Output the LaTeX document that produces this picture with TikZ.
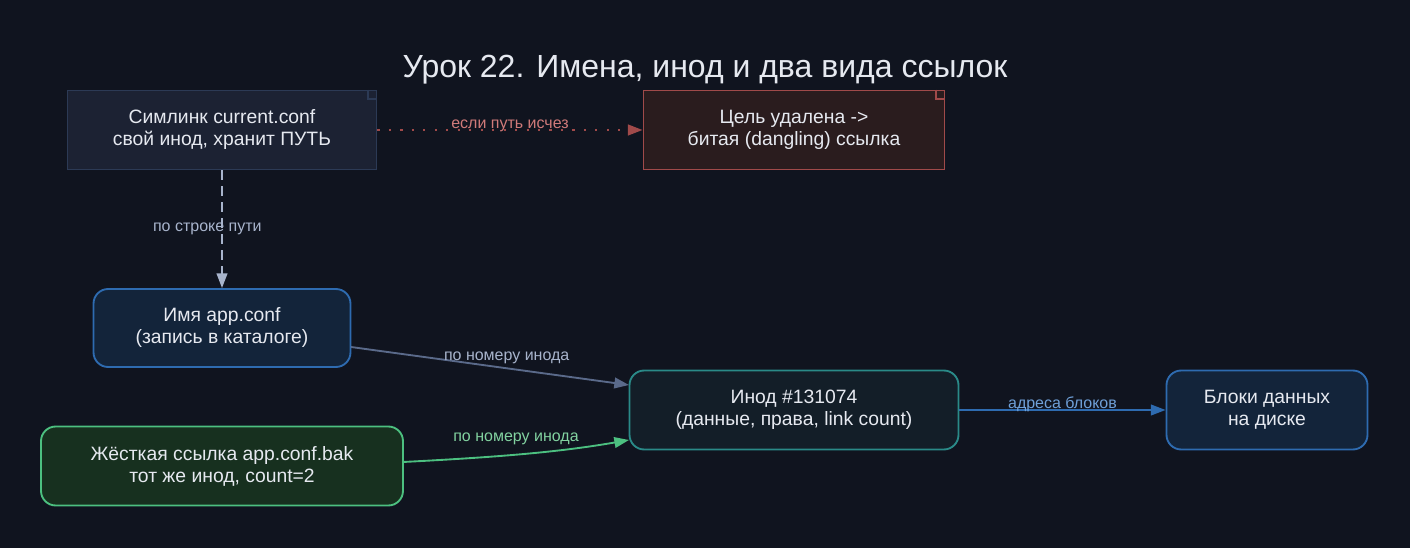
\documentclass[tikz,border=0pt]{standalone}
\usepackage{fontspec}
\setmainfont{Liberation Sans}
\usetikzlibrary{arrows.meta}
\definecolor{bg}{HTML}{10141F}
\definecolor{symf}{HTML}{1C2233}\definecolor{syml}{HTML}{2C3A55}
\definecolor{deadf}{HTML}{2A1C1E}\definecolor{deadl}{HTML}{A04A4A}
\definecolor{bluf}{HTML}{13243A}\definecolor{blul}{HTML}{2E6BB0}
\definecolor{inof}{HTML}{131E28}\definecolor{inol}{HTML}{2A8A88}
\definecolor{grnf}{HTML}{17301F}\definecolor{grnl}{HTML}{4CC080}
\definecolor{txt}{HTML}{E6E9F0}
\tikzset{
 x=0.75pt,y=-0.75pt,
 base/.style={text=txt,font=\fontsize{14.5}{16.5}\selectfont,align=center,line width=1.4pt,inner sep=0pt},
 rbox/.style={base,rounded corners=11pt,rectangle},
 elab/.style={font=\fontsize{12}{14}\selectfont,inner sep=1pt},
 arr/.style={-{Triangle[length=11pt,width=8pt]},line width=1.4pt},
}
\begin{document}
\begin{tikzpicture}
\fill[bg] (0,0) rectangle (1410,548);
\useasboundingbox (0,0) rectangle (1410,548);
\node[text=txt,font=\fontsize{24}{28}\selectfont] (title) at (705,70) {Урок 22. Имена, инод и два вида ссылок};
\node[base,draw=syml,fill=symf,minimum width=309*0.75pt,minimum height=79*0.75pt] (sym) at (222,130) {Симлинк current.conf\\свой инод, хранит ПУТЬ};
\node[base,draw=deadl,fill=deadf,minimum width=301*0.75pt,minimum height=79*0.75pt] (dead) at (794,130) {Цель удалена ->\\битая (dangling) ссылка};
\draw[line width=1pt,draw=syml] ([xshift=-7pt]sym.north east) -- ([xshift=-7pt,yshift=-7pt]sym.north east) -- ([yshift=-7pt]sym.north east);
\draw[line width=1pt,draw=deadl] ([xshift=-7pt]dead.north east) -- ([xshift=-7pt,yshift=-7pt]dead.north east) -- ([yshift=-7pt]dead.north east);
\node[rbox,draw=blul,fill=bluf,minimum width=257*0.75pt,minimum height=78*0.75pt] (app) at (222,328) {Имя app.conf\\(запись в каталоге)};
\node[rbox,draw=inol,fill=inof,minimum width=329*0.75pt,minimum height=79*0.75pt] (ino) at (794,410) {Инод \#131074\\(данные, права, link count)};
\node[rbox,draw=blul,fill=bluf,minimum width=201*0.75pt,minimum height=79*0.75pt] (blk) at (1267,410) {Блоки данных\\на диске};
\node[rbox,draw=grnl,fill=grnf,minimum width=362*0.75pt,minimum height=79*0.75pt] (hard) at (222,466) {Жёсткая ссылка app.conf.bak\\тот же инод, count=2};
\draw[arr,line width=1.6pt,dash pattern=on 1.6pt off 7pt,color=deadl] (sym) -- (dead) node[elab,midway,above=-3pt,text={rgb,255:red,208;green,122;blue,122}] {если путь исчез};
\draw[arr,dash pattern=on 7pt off 5pt,color={rgb,255:red,168;green,180;blue,204}] (sym) -- (app) node[elab,pos=0.5,text={rgb,255:red,168;green,180;blue,204},xshift=-11pt] {по строке пути};
\coordinate (a1) at (351,347);
\coordinate (a2) at (629,385);
\draw[arr,color={rgb,255:red,90;green,106;blue,138}] (a1) -- (a2) node[elab,pos=0.56,above=2pt,text={rgb,255:red,168;green,180;blue,204}] {по номеру инода};
\coordinate (h1) at (403,462);
\coordinate (h2) at (629,440);
\draw[arr,color=grnl] (h1) .. controls (500,457) and (560,452) .. (h2);
\node[elab,text={rgb,255:red,130;green,210;blue,160}] (hl) at (516,439) {по номеру инода};
\draw[arr,color=blul] (ino) -- (blk) node[elab,midway,above=-3pt,text={rgb,255:red,111;green,160;blue,216}] {адреса блоков};
\end{tikzpicture}
\end{document}
